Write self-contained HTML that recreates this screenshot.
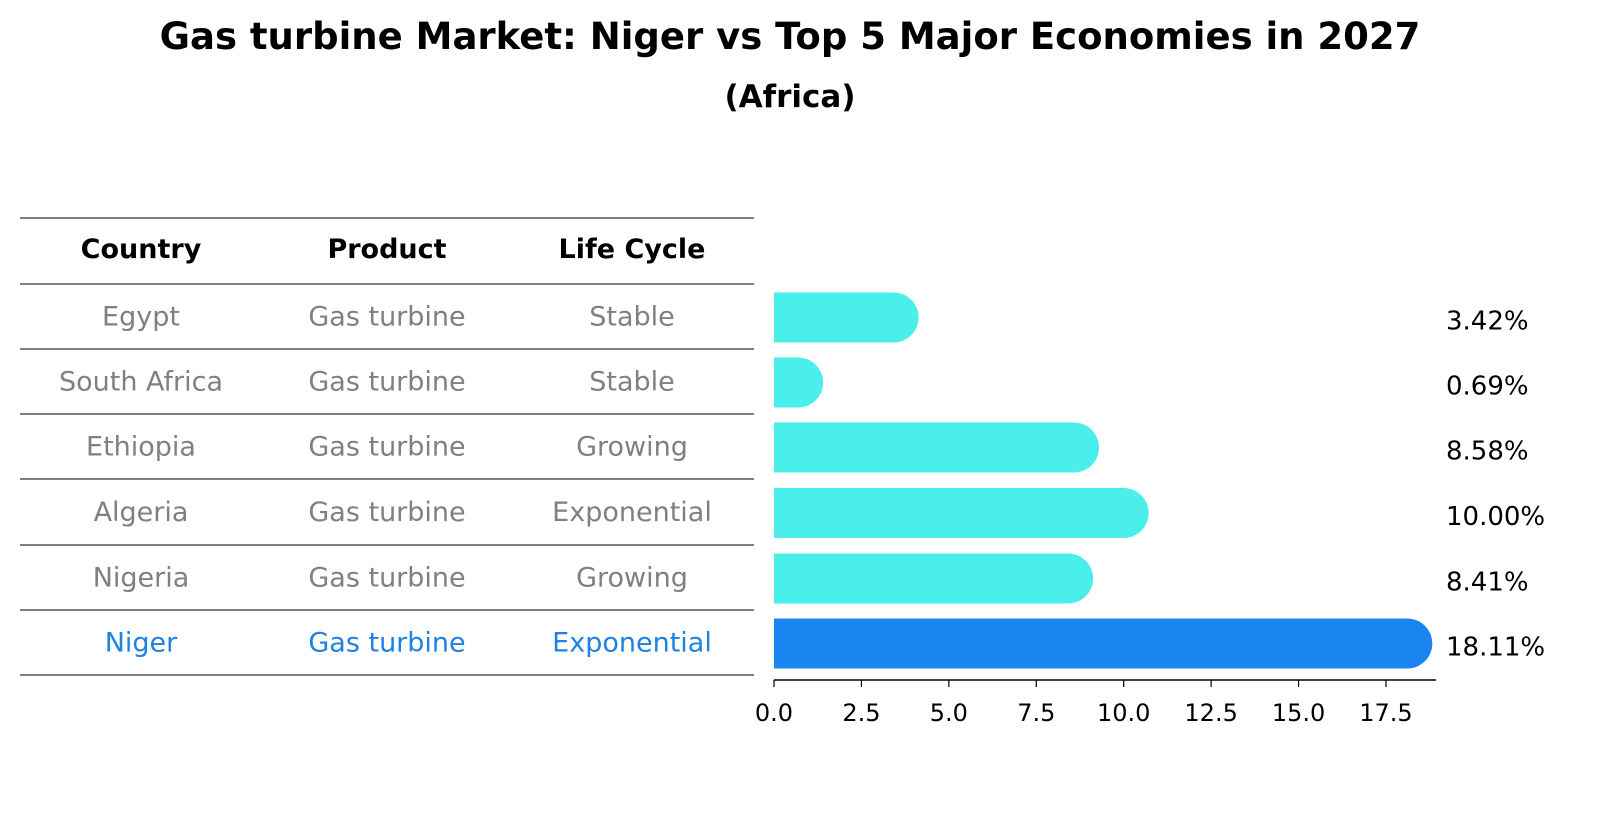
<!DOCTYPE html>
<html><head><meta charset="utf-8"><style>
body{margin:0;background:#fff;font-family:"DejaVu Sans","Liberation Sans",sans-serif}
</style></head><body>
<svg width="1604" height="823" xmlns="http://www.w3.org/2000/svg" font-family="DejaVu Sans, Liberation Sans, sans-serif">
<text x="790" y="49" text-anchor="middle" font-size="37" font-weight="bold">Gas turbine Market: Niger vs Top 5 Major Economies in 2027</text>
<text x="790" y="107" text-anchor="middle" font-size="31" font-weight="bold">(Africa)</text>
<g id="table"></g>
<g id="bars"></g>
</svg>
<script>
const countries=["Egypt","South Africa","Ethiopia","Algeria","Nigeria","Niger"];
const products=["Gas turbine","Gas turbine","Gas turbine","Gas turbine","Gas turbine","Gas turbine"];
const cycles=["Stable","Stable","Growing","Exponential","Growing","Exponential"];
const values=[3.42,0.69,8.58,10.00,8.41,18.11];
const ticks=[0,2.5,5,7.5,10,12.5,15,17.5];
const NS="http://www.w3.org/2000/svg";
function mk(tag,attrs,parent,txt){const e=document.createElementNS(NS,tag);for(const k in attrs)e.setAttribute(k,attrs[k]);if(txt!==undefined)e.textContent=txt;parent.appendChild(e);return e;}
const tb=document.getElementById('table');
const lineYs=[218,284,349,414,479,545,610,675];
lineYs.forEach(y=>{const l=mk('line',{x1:20,x2:754,y1:y,y2:y,stroke:'#000','stroke-width':1},tb);

});
const colX=[141,387,632];
["Country","Product","Life Cycle"].forEach((h,i)=>{const t=mk('text',{x:colX[i],y:258,'text-anchor':'middle','font-size':27,'font-weight':'bold'},tb,h);

});
const rowY=i=>(lineYs[i+1]+lineYs[i+2])/2+9;
countries.forEach((c,i)=>{const col=i===countries.length-1?'#1f82e0':'#808080';
[c,products[i],cycles[i]].forEach((v,j)=>{const t=mk('text',{x:colX[j],y:rowY(i),'text-anchor':'middle','font-size':27,fill:col},tb,v);

});});
const bg=document.getElementById('bars');
const x0=774,pxPer=34.97;const X=v=>x0+v*pxPer;
const barC=i=>(lineYs[i+1]+lineYs[i+2])/2+1;const bh=50,r=25;
values.forEach((v,i)=>{const yc=barC(i);const xe=X(v);const col=i===values.length-1?'#1a84f0':'#4aeeea';
const p=mk('path',{d:`M${x0},${yc-bh/2} L${xe},${yc-bh/2} A${r},${r} 0 0 1 ${xe},${yc+bh/2} L${x0},${yc+bh/2} Z`,fill:col},bg);


const t=mk('text',{x:1446,y:yc+12,'font-size':26},bg,v.toFixed(2)+'%');

});
const ax=mk('line',{x1:x0,x2:1436,y1:680,y2:680,stroke:'#000','stroke-width':1.5},bg);


ticks.forEach(tv=>{const x=X(tv);const l=mk('line',{x1:x,x2:x,y1:680,y2:687,stroke:'#000','stroke-width':1.2},bg);


const t=mk('text',{x:x,y:721,'text-anchor':'middle','font-size':24},bg,tv.toFixed(1));

});
</script>
</body></html>
